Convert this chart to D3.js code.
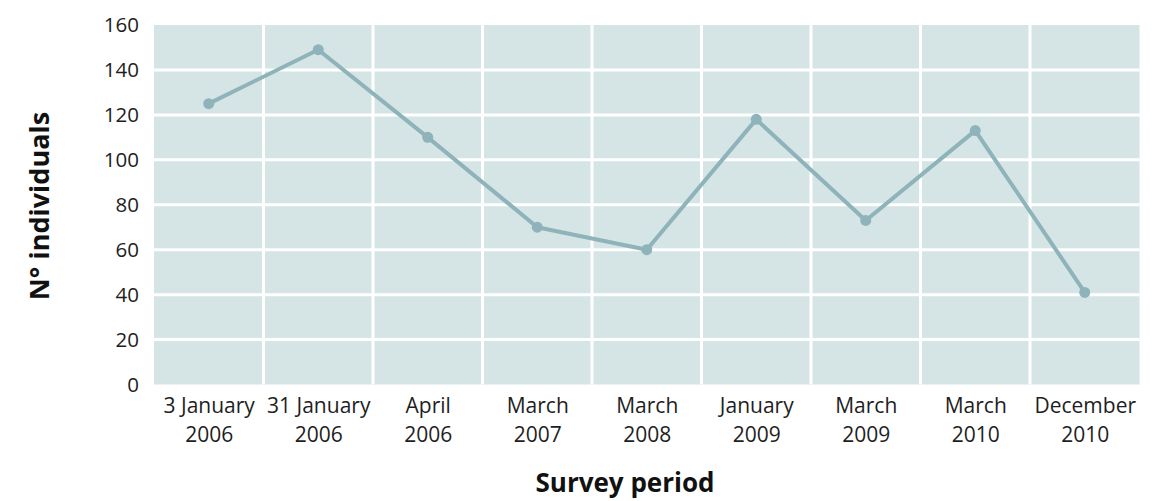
<!DOCTYPE html>
<html>
<head>
<meta charset="utf-8">
<script src="https://cdn.jsdelivr.net/npm/d3@7"></script>
<style>
  html, body { margin: 0; padding: 0; background: #fff; }
  svg { display: block; font-family: "Open Sans", "Noto Sans", sans-serif; }
</style>
</head>
<body>
<svg id="chart" width="1158" height="501"></svg>
<script>
const categories = [
  ["3 January", "2006"],
  ["31 January", "2006"],
  ["April", "2006"],
  ["March", "2007"],
  ["March", "2008"],
  ["January", "2009"],
  ["March", "2009"],
  ["March", "2010"],
  ["December", "2010"]
];
const values = [125, 149, 110, 70, 60, 118, 73, 113, 41];
const yTicks = [0, 20, 40, 60, 80, 100, 120, 140, 160];
const yTitle = "N° individuals";
const xTitle = "Survey period";

const svg = d3.select("#chart");
const W = 1158, H = 501;
const m = { left: 154, right: W - 1139.5, top: 25, bottom: H - 384.5 };
const iw = W - m.left - m.right, ih = H - m.top - m.bottom;

const keys = categories.map((c, i) => i);
const xBand = d3.scaleBand().domain(keys).range([0, iw]).padding(0);
const x = d3.scalePoint().domain(keys).range([0, iw]).padding(0.5);
const y = d3.scaleLinear().domain([0, 160]).range([ih, 0]);

const g = svg.append("g").attr("transform", `translate(${m.left},${m.top})`);

g.append("rect").attr("width", iw).attr("height", ih).attr("fill", "#d5e4e5");

// horizontal grid
g.append("g").selectAll("line").data(yTicks.slice(1, -1)).join("line")
  .attr("x1", 0).attr("x2", iw)
  .attr("y1", d => y(d)).attr("y2", d => y(d))
  .attr("stroke", "#fff").attr("stroke-width", 3);

// vertical grid at band boundaries
g.append("g").selectAll("line").data(keys.slice(1)).join("line")
  .attr("x1", d => xBand(d)).attr("x2", d => xBand(d))
  .attr("y1", 0).attr("y2", ih)
  .attr("stroke", "#fff").attr("stroke-width", 3);

// y axis
const yAxis = g.append("g").call(d3.axisLeft(y).tickValues(yTicks).tickSize(0).tickPadding(15));
yAxis.select(".domain").remove();
yAxis.selectAll("text").attr("font-size", 20.5).attr("fill", "#1e1e1e")
  .attr("font-family", "'Open Sans', sans-serif");

// x axis
const xAxis = g.append("g").attr("transform", `translate(0,${ih})`)
  .call(d3.axisBottom(x).tickSize(0).tickFormat(""));
xAxis.select(".domain").remove();
xAxis.selectAll(".tick").each(function(d) {
  const t = d3.select(this).append("text")
    .attr("text-anchor", "middle").attr("fill", "#1e1e1e")
    .attr("font-family", "'Open Sans', sans-serif")
    .attr("font-size", 21);
  t.append("tspan").attr("x", 0).attr("y", 28).text(categories[d][0]);
  t.append("tspan").attr("x", 0).attr("y", 57).text(categories[d][1]);
});

// line
const line = d3.line().x((d, i) => x(i)).y(d => y(d));
g.append("path").datum(values)
  .attr("fill", "none").attr("stroke", "#8fb3ba").attr("stroke-width", 4)
  .attr("stroke-linejoin", "round")
  .attr("d", line);

g.append("g").selectAll("circle").data(values).join("circle")
  .attr("cx", (d, i) => x(i)).attr("cy", d => y(d)).attr("r", 5.5)
  .attr("fill", "#8fb3ba");

// titles
svg.append("text")
  .attr("transform", `translate(49,206) rotate(-90)`)
  .attr("text-anchor", "middle").attr("font-weight", "bold")
  .attr("font-size", 27).attr("fill", "#111").text(yTitle);

svg.append("text")
  .attr("x", 625).attr("y", 492)
  .attr("text-anchor", "middle").attr("font-weight", "bold")
  .attr("font-size", 26).attr("fill", "#111").text(xTitle);
</script>
</body>
</html>
